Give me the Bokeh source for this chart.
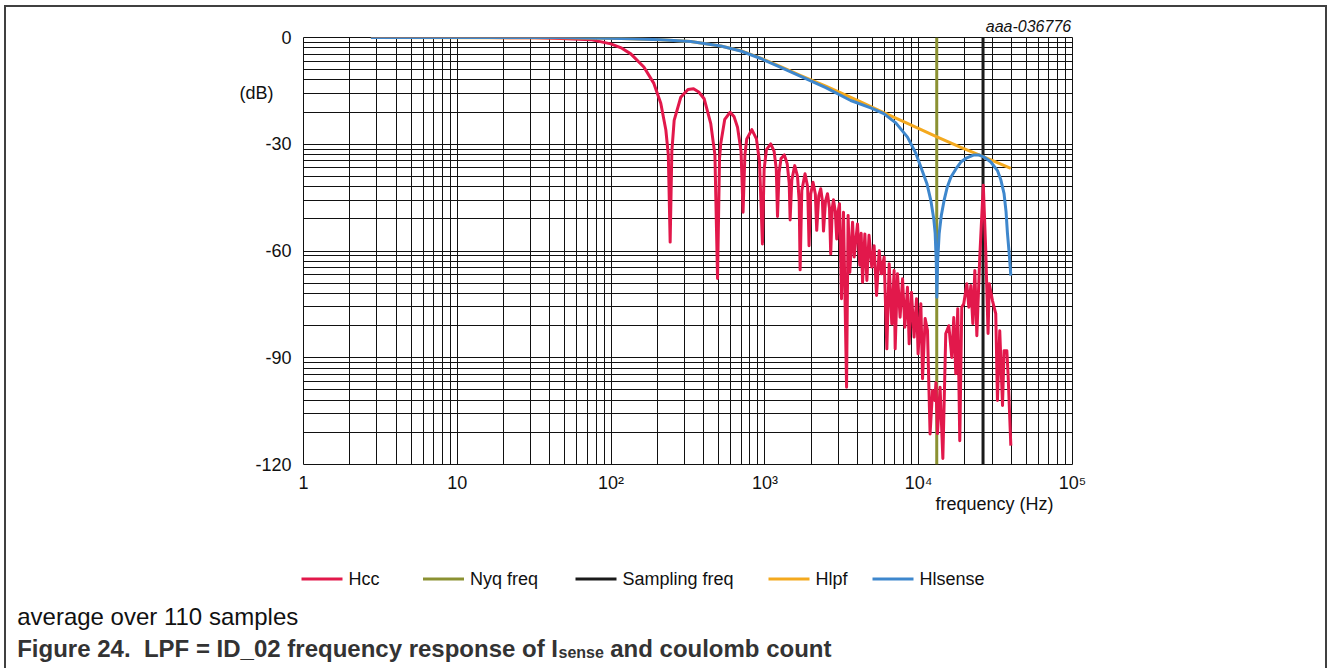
import math
from bokeh.plotting import figure
from bokeh.layouts import column
from bokeh.models import FixedTicker, Range1d, LogAxis
from bokeh.core.properties import value
from bokeh.embed import file_html
from bokeh.resources import INLINE

# ---------------- data ----------------
# frequencies are read on the log axis, given here as log10(f / Hz)
hcc_logf = [0.440, 1.200, 1.500, 1.673, 1.868, 1.998, 2.070, 2.128, 2.213, 2.278,
            2.323, 2.356, 2.372, 2.384, 2.395, 2.410, 2.453, 2.500, 2.536, 2.570,
            2.605, 2.648, 2.675, 2.692, 2.705, 2.713, 2.739, 2.774, 2.800, 2.822,
            2.845, 2.858, 2.870, 2.882, 2.915, 2.945, 2.965, 2.984, 2.995, 3.010,
            3.038, 3.060, 3.074, 3.082, 3.092, 3.105, 3.126, 3.145, 3.158, 3.164,
            3.175, 3.194, 3.212, 3.223, 3.229, 3.240, 3.261, 3.278, 3.287, 3.298,
            3.313, 3.328, 3.337, 3.350, 3.363, 3.374, 3.381, 3.394, 3.407, 3.420,
            3.428, 3.438, 3.446, 3.458, 3.467, 3.476, 3.485, 3.498, 3.511, 3.531,
            3.541, 3.552, 3.570, 3.580, 3.602, 3.617, 3.626, 3.635, 3.650, 3.663,
            3.677, 3.695, 3.710, 3.726, 3.743, 3.758, 3.775, 3.793, 3.808, 3.825,
            3.840, 3.847, 3.862, 3.879, 3.895, 3.910, 3.927, 3.938, 3.953, 3.970,
            3.986, 3.996, 4.014, 4.025, 4.042, 4.057, 4.074, 4.090, 4.105, 4.112,
            4.122, 4.139, 4.157, 4.176, 4.196, 4.215, 4.228, 4.241, 4.254, 4.267,
            4.280, 4.293, 4.313, 4.326, 4.339, 4.352, 4.365, 4.378, 4.397, 4.420,
            4.436, 4.451, 4.459, 4.480, 4.501, 4.512, 4.527, 4.545, 4.555, 4.573,
            4.581, 4.599]
hcc_db = [0.0, 0.0, -0.1, -0.25, -0.6, -1.8, -3.0, -4.6, -8.3, -12.9,
          -18.5, -26.0, -33.0, -57.5, -32.0, -23.3, -16.8, -14.6, -14.4, -15.3,
          -17.2, -24.2, -33.0, -67.7, -34.0, -29.8, -23.0, -21.0, -22.3, -25.2,
          -32.0, -49.1, -33.0, -28.5, -25.9, -28.5, -35.0, -58.0, -37.0, -31.5,
          -29.9, -32.0, -37.0, -50.3, -38.0, -34.0, -33.0, -35.5, -41.0, -51.3,
          -40.0, -36.0, -39.0, -46.0, -65.3, -43.0, -38.3, -42.0, -58.5, -44.0,
          -40.7, -44.0, -54.2, -44.5, -42.5, -46.0, -54.4, -46.0, -43.9, -48.0,
          -60.8, -48.0, -45.6, -49.0, -56.6, -49.0, -46.7, -73.4, -49.1, -98.3,
          -50.0, -66.0, -51.9, -61.7, -52.4, -64.0, -55.0, -68.8, -55.2, -68.3,
          -55.6, -64.5, -58.5, -72.5, -59.9, -66.4, -61.7, -87.5, -63.6, -80.5,
          -65.5, -87.5, -66.4, -78.6, -67.8, -81.4, -70.2, -86.1, -71.6, -84.2,
          -73.4, -88.9, -74.8, -95.9, -79.0, -82.3, -111.4, -99.2, -102.0, -97.0,
          -111.3, -98.3, -118.3, -83.2, -81.0, -89.9, -78.7, -94.5, -76.2, -113.3,
          -75.8, -74.8, -69.2, -75.8, -69.7, -80.4, -65.5, -83.8, -61.7, -41.5,
          -59.9, -83.2, -69.2, -74.0, -77.6, -102.0, -82.4, -103.4, -88.0, -88.0,
          -94.5, -114.7]

hlpf_logf = [0.438, 1.673, 2.063, 2.323, 2.518, 2.713, 2.843, 2.973, 3.103, 3.233,
             3.396, 3.602, 3.751, 3.927, 4.122, 4.274, 4.404, 4.599]
hlpf_db = [0.0, -0.05, -0.3, -0.6, -1.1, -2.4, -3.7, -5.8, -8.2, -10.7,
           -13.7, -17.7, -20.7, -24.1, -28.0, -30.9, -33.2, -36.8]

hls_logf = [0.438, 1.673, 2.063, 2.323, 2.518, 2.713, 2.843, 2.973, 3.103, 3.233,
            3.396, 3.558, 3.688, 3.773, 3.851, 3.927, 3.981, 4.014, 4.053, 4.079,
            4.098, 4.107, 4.114, 4.118, 4.123, 4.133, 4.147, 4.165, 4.186, 4.209,
            4.241, 4.274, 4.313, 4.360, 4.391, 4.425, 4.469, 4.512, 4.534, 4.555,
            4.568, 4.577, 4.589, 4.599]
hls_db = [0.0, 0.0, -0.3, -0.6, -1.1, -2.4, -3.8, -5.9, -8.4, -10.9,
          -14.1, -17.7, -19.8, -21.4, -24.0, -28.0, -32.5, -36.4, -41.0, -45.8,
          -51.0, -55.0, -63.0, -73.0, -63.0, -55.2, -50.0, -45.8, -42.0, -39.3,
          -37.0, -35.0, -33.8, -33.0, -33.0, -33.6, -35.0, -37.4, -40.0, -43.9,
          -49.0, -55.0, -61.0, -66.9]

nyq_freq = 13100      # Hz
samp_freq = 26200     # Hz

x_ticks = [1, 10, 100, 1000, 10000, 100000]
x_tick_labels = ["1", "10", "10\u00b2", "10\u00b3", "10\u2074", "10\u2075"]
y_ticks = [0, -30, -60, -90, -120]
y_tick_labels = ["0", "-30", "-60", "-90", "-120"]
y_min, y_max = -120, 0

series_names = ["Hcc", "Nyq freq", "Sampling freq", "Hlpf", "Hlsense"]
colors = {"Hcc": "#E2184B", "Nyq freq": "#8B9132", "Sampling freq": "#1A1A1A",
          "Hlpf": "#F4A91E", "Hlsense": "#3E87CD"}

y_label = "(dB)"
x_label = "frequency (Hz)"
tag_text = "aaa-036776"
note_text = "average over 110 samples"
caption_main = "Figure 24.\u00a0 LPF = ID_02 frequency response of I"
caption_sub = "sense"
caption_end = "and coulomb count"

# ---------------- layout constants ----------------
W, H = 1328, 668
FL, FT, FW, FH = 303, 37, 769, 427
FONT = "Liberation Sans"
INK = "#111111"


def dx(px):   # screen x -> data x of the chart
    return 10 ** ((px - FL) / FW * 5)


def dy(py):   # screen y -> data y of the chart
    return round(-(py - FT) / FH * 120, 2)


p = figure(x_axis_type="log", x_range=Range1d(1, 1e5), y_range=Range1d(y_min, y_max),
           frame_width=FW, frame_height=FH,
           min_border_left=FL, min_border_right=W - FL - FW,
           min_border_top=FT, min_border_bottom=H - FT - FH,
           output_backend="svg", toolbar_location=None,
           background_fill_color="white", border_fill_color=None)

# grid
x_minor = [k * 10 ** n for n in range(5) for k in range(2, 10)]
y_minor = [b + 30 * math.log10(k) for b in (-30, -60, -90, -120) for k in range(2, 10)]
p.xgrid.ticker = FixedTicker(ticks=x_ticks, minor_ticks=x_minor)
p.ygrid.ticker = FixedTicker(ticks=y_ticks, minor_ticks=y_minor)
for g in (p.xgrid, p.ygrid):
    g.grid_line_color = INK
    g.grid_line_width = 1
    g.grid_line_alpha = 1
    g.minor_grid_line_color = INK
    g.minor_grid_line_width = 1
    g.minor_grid_line_alpha = 1
p.outline_line_color = INK
p.outline_line_width = 1


def style_axis(ax, size="18px", standoff=8, fstyle="normal"):
    ax.axis_line_color = None
    ax.major_tick_line_color = None
    ax.minor_tick_line_color = None
    ax.major_tick_out = 0
    ax.major_tick_in = 0
    ax.minor_tick_out = 0
    ax.minor_tick_in = 0
    ax.major_label_text_font = FONT
    ax.major_label_text_font_size = size
    ax.major_label_text_font_style = fstyle
    ax.major_label_text_color = INK
    ax.major_label_standoff = standoff


# main x axis
xax = p.below[0]
xax.ticker = FixedTicker(ticks=x_ticks, minor_ticks=[])
xax.major_label_overrides = dict(zip(x_ticks, x_tick_labels))
style_axis(xax, standoff=8)

# main y axis, also carrying the "(dB)" unit text
yax = p.left[0]
db_pos = dy(92.5)
yax.ticker = FixedTicker(ticks=y_ticks + [db_pos], minor_ticks=[])
ov = dict(zip(y_ticks, y_tick_labels))
ov[db_pos] = y_label + "\u2002\u2002"
yax.major_label_overrides = ov
style_axis(yax, standoff=12)

# "frequency (Hz)" below the tick labels
fx = dx(994)
fax = LogAxis(ticker=FixedTicker(ticks=[fx], minor_ticks=[]),
              major_label_overrides={fx: x_label})
style_axis(fax, standoff=-2)
p.add_layout(fax, "below")

# drawing tag above the chart
tx = dx(1028)
tax = LogAxis(ticker=FixedTicker(ticks=[tx], minor_ticks=[]),
              major_label_overrides={tx: tag_text})
style_axis(tax, size="16px", standoff=3, fstyle="italic")
p.add_layout(tax, "above")

# curves
p.line([nyq_freq, nyq_freq], [y_max, y_min], line_color=colors["Nyq freq"], line_width=3)
p.line([samp_freq, samp_freq], [y_max, y_min], line_color=colors["Sampling freq"], line_width=3)
p.line([10 ** v for v in hcc_logf], hcc_db, line_color=colors["Hcc"], line_width=3,
       line_join="round")
p.line([10 ** v for v in hlpf_logf], hlpf_db, line_color=colors["Hlpf"], line_width=3,
       line_join="round")
p.line([10 ** v for v in hls_logf], hls_db, line_color=colors["Hlsense"], line_width=3,
       line_join="round")

# ---------------- legend row, note and caption below the chart ----------------
# (drawn at overlay level so that they are not clipped to the chart frame)
legend_x = [301, 422.5, 575, 768, 872]          # left end of each legend swatch
legend_y = dy(578.5)
SW, GAP = 41, 6
for name, lx in zip(series_names, legend_x):
    p.segment(x0=[dx(lx)], x1=[dx(lx + SW)], y0=[legend_y], y1=[legend_y],
              line_color=colors[name], line_width=3, level="overlay")
p.text(x=[dx(lx + SW + GAP) for lx in legend_x], y=[legend_y] * len(series_names),
       text=series_names, text_font=value(FONT), text_font_size="18px",
       text_baseline="middle", text_color=INK, level="overlay")

p.text(x=[dx(16.7)], y=[dy(616)], text=[note_text], text_font=value(FONT),
       text_font_size="24px", text_baseline="alphabetic", text_color=INK, level="overlay")
CAP = "#333333"
p.text(x=[dx(16.7)], y=[dy(648)], text=[caption_main], text_font=value(FONT),
       text_font_size="24px", text_font_style="bold", text_baseline="alphabetic",
       text_color=CAP, level="overlay")
p.text(x=[dx(558)], y=[dy(652)], text=[caption_sub], text_font=value(FONT),
       text_font_size="16px", text_font_style="bold", text_baseline="alphabetic",
       text_color=CAP, level="overlay")
p.text(x=[dx(609.7)], y=[dy(648)], text=[caption_end], text_font=value(FONT),
       text_font_size="24px", text_font_style="bold", text_baseline="alphabetic",
       text_color=CAP, level="overlay")

# outer panel frame (open at the bottom, as in the reference)
edge = "#404040"
bg = (f"linear-gradient({edge},{edge}) 4px 5px / 2px 700px no-repeat, "
      f"linear-gradient({edge},{edge}) 1325px 5px / 2px 700px no-repeat, "
      f"linear-gradient({edge},{edge}) 4px 5px / 1323px 2px no-repeat, #ffffff")
layout = column(p, spacing=0, styles={"background": bg})

open("out.html", "w").write(file_html(layout, INLINE))
